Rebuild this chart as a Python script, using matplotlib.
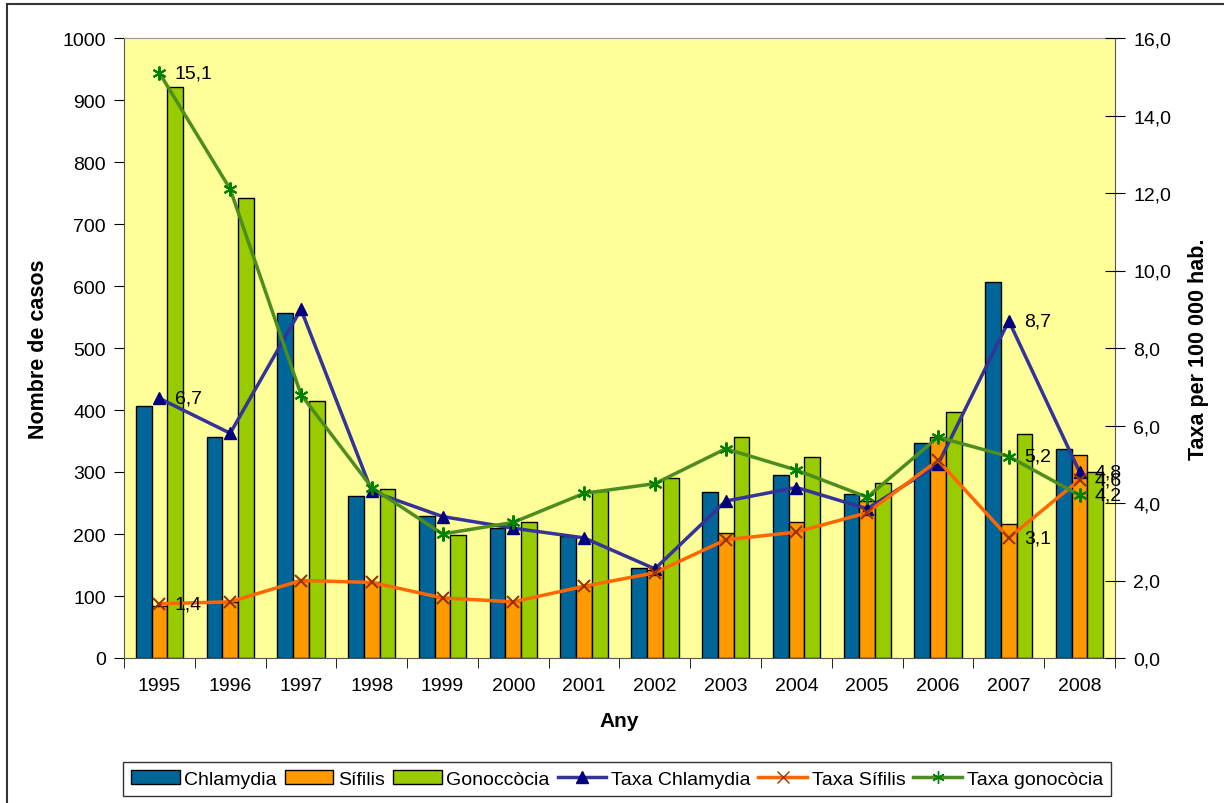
import numpy as np
import matplotlib
matplotlib.use("Agg")
import matplotlib.pyplot as plt
from matplotlib.lines import Line2D
from matplotlib.patches import Patch, Rectangle
from matplotlib.ticker import FuncFormatter

plt.rcParams['font.family'] = ['Liberation Sans', 'DejaVu Sans']

# data
years = ['1995', '1996', '1997', '1998', '1999', '2000', '2001',
         '2002', '2003', '2004', '2005', '2006', '2007', '2008']
chlamydia = [407, 356, 556, 262, 229, 209, 196, 145, 267, 295, 265, 347, 607, 337]
sifilis = [84, 91, 124, 122, 98, 92, 116, 142, 202, 219, 253, 357, 216, 328]
gonococcia = [921, 742, 415, 273, 199, 219, 269, 290, 356, 324, 283, 397, 362, 300]

taxa_chlamydia = [6.7, 5.8, 9.0, 4.3, 3.65, 3.35, 3.1, 2.3, 4.05, 4.4, 3.85, 5.0, 8.7, 4.8]
taxa_sifilis = [1.4, 1.45, 2.0, 1.95, 1.55, 1.45, 1.85, 2.2, 3.05, 3.25, 3.75, 5.1, 3.1, 4.6]
taxa_gono = [15.1, 12.1, 6.8, 4.4, 3.2, 3.5, 4.25, 4.5, 5.4, 4.85, 4.15, 5.7, 5.2, 4.2]

# which points carry a data label
label_idx = [0, 12, 13]

c_blue = '#006699'
c_orange = '#FF9900'
c_green = '#99CC00'
l_blue = '#333399'
l_orange = '#FF6600'
l_green = '#4D8C1F'

fig = plt.figure(figsize=(12.24, 8.04), dpi=100)
fig.patches.append(Rectangle((7 / 1224, -0.01), 1.02, 1 - 5 / 804 + 0.01,
                             transform=fig.transFigure, fill=False,
                             edgecolor='#333333', linewidth=1.5))

ax = fig.add_axes([124 / 1224, 1 - 659 / 804, 991 / 1224, 620 / 804])
ax.set_facecolor('#FFFF99')
x = np.arange(len(years))
w = 0.223
ax.bar(x - w, chlamydia, w, color=c_blue, edgecolor='black', linewidth=1)
ax.bar(x, sifilis, w, color=c_orange, edgecolor='black', linewidth=1)
ax.bar(x + w, gonococcia, w, color=c_green, edgecolor='black', linewidth=1)
ax.set_xlim(-0.5, len(years) - 0.5)
ax.set_ylim(0, 1000)
ax.set_yticks(np.arange(0, 1001, 100))
ax.set_xticks(x)
ax.set_xticklabels(years)
ax.set_xticks(np.arange(-0.5, len(years), 1), minor=True)
ax.tick_params(axis='x', which='major', length=0, labelsize=14, pad=14)
ax.tick_params(axis='x', which='minor', length=7, direction='out')
ax.tick_params(axis='y', labelsize=14, length=7, direction='out', pad=6)
ax.set_ylabel('Nombre de casos', fontsize=15.5, fontweight='bold', labelpad=10)
ax.set_xlabel('Any', fontsize=15, fontweight='bold', labelpad=12)
for s in ax.spines.values():
    s.set_color('#555555')
ax.spines['top'].set_color('#999999')

ax2 = ax.twinx()
ax2.plot(x, taxa_chlamydia, color=l_blue, linewidth=2.5, marker='^',
         markersize=9, markerfacecolor='#000080', markeredgecolor='#000080')
ax2.plot(x, taxa_sifilis, color=l_orange, linewidth=2.5, marker='x',
         markersize=9, markeredgecolor='#993300', markeredgewidth=1.5)
ax2.plot(x, taxa_gono, color=l_green, linewidth=2.5, marker=(6, 2, 0),
         markersize=10, markeredgecolor='#008000', markeredgewidth=1.5)
ax2.set_ylim(0, 16)
ax2.set_yticks(np.arange(0, 16.1, 2))
ax2.yaxis.set_major_formatter(FuncFormatter(lambda v, p: ('%.1f' % v).replace('.', ',')))
ax2.tick_params(axis='y', labelsize=14, length=14, direction='inout', pad=6)
ax2.set_ylabel('Taxa per 100 000 hab.', fontsize=15.5, fontweight='bold', labelpad=12)
for s in ax2.spines.values():
    s.set_visible(False)

for series in (taxa_chlamydia, taxa_sifilis, taxa_gono):
    for i in label_idx:
        ax2.annotate(('%.1f' % series[i]).replace('.', ','), (x[i], series[i]),
                     xytext=(11, 0), textcoords='offset points', fontsize=14,
                     va='center', ha='left')

handles = [
    Patch(facecolor=c_blue, edgecolor='black', label='Chlamydia'),
    Patch(facecolor=c_orange, edgecolor='black', label='Sífilis'),
    Patch(facecolor=c_green, edgecolor='black', label='Gonoccòcia'),
    Line2D([], [], color=l_blue, linewidth=2.5, marker='^', markersize=8,
           markerfacecolor='#000080', markeredgecolor='#000080', label='Taxa Chlamydia'),
    Line2D([], [], color=l_orange, linewidth=2.5, marker='x', markersize=8,
           markeredgecolor='#993300', label='Taxa Sífilis'),
    Line2D([], [], color=l_green, linewidth=2.5, marker=(6, 2, 0), markersize=9,
           markeredgecolor='#008000', label='Taxa gonocòcia'),
]
leg = fig.legend(handles=handles, loc='center', bbox_to_anchor=(617 / 1224, 1 - 780 / 804),
                 ncol=6, fontsize=14, frameon=True, fancybox=False, handlelength=2.5,
                 handletextpad=0.25, columnspacing=0.4, borderpad=0.4, handleheight=0.7,
                 borderaxespad=0)
leg.get_frame().set_edgecolor('black')
leg.get_frame().set_linewidth(1)

fig.savefig('out.png', dpi=100)
